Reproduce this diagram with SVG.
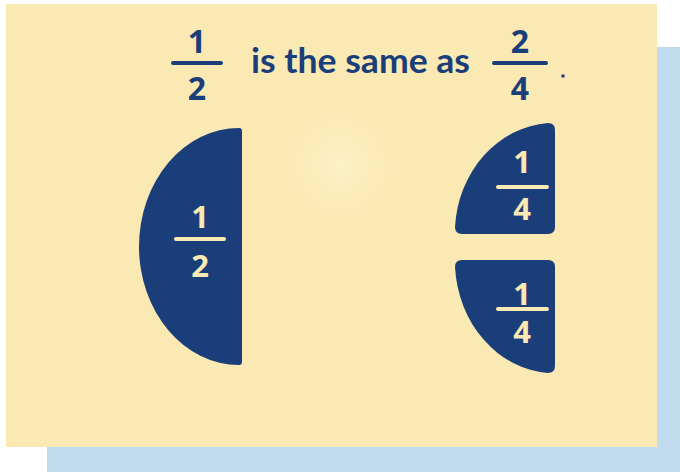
<svg xmlns="http://www.w3.org/2000/svg" width="680" height="472" viewBox="0 0 680 472">
<defs>
<radialGradient id="glow" cx="340" cy="165" r="80" gradientUnits="userSpaceOnUse">
<stop offset="0" stop-color="#fdf1c8"/>
<stop offset="1" stop-color="#fbe9b3" stop-opacity="0"/>
</radialGradient>
<style>
.navy{fill:#1a3e7a}
.num{font-family:"Open Sans","DejaVu Sans",sans-serif;font-weight:700;text-anchor:middle}
.dark{fill:#1a3e7a}
.light{fill:#fbe9b3}
.bar-d{stroke:#1a3e7a;stroke-width:4;stroke-linecap:round}
.bar-l{stroke:#fbe9b3;stroke-width:4;stroke-linecap:round}
.words{font-family:"Lato","Open Sans",sans-serif;font-weight:700;font-size:34px;fill:#1a3e7a}
</style>
</defs>
<rect x="47" y="47" width="633" height="425" fill="#c0daee"/>
<rect x="6" y="4" width="651" height="443" fill="#fbe9b3"/>
<circle cx="340" cy="165" r="80" fill="url(#glow)"/>
<g id="title">
<text class="num dark" x="197" y="53" font-size="32">1</text>
<line class="bar-d" x1="173" y1="63" x2="221" y2="63"/>
<text class="num dark" x="197" y="100" font-size="32">2</text>
<text class="words" x="251" y="73" textLength="219" lengthAdjust="spacingAndGlyphs">is the same as</text>
<text class="num dark" x="520" y="53" font-size="32">2</text>
<line class="bar-d" x1="494" y1="63" x2="546" y2="63"/>
<text class="num dark" x="520" y="100" font-size="32">4</text>
<circle cx="563" cy="76" r="1.8" fill="#1a3e7a"/>
</g>
<g id="half">
<path class="navy" d="M239,128 Q242,128 242,131 L242,362 Q242,365 239,365 A100,118.5 0 0 1 239,128 Z"/>
<text class="num light" x="200" y="228" font-size="31">1</text>
<line class="bar-l" x1="176" y1="239" x2="224" y2="239"/>
<text class="num light" x="200" y="277" font-size="31">2</text>
</g>
<g id="quarter-top">
<path class="navy" d="M548,123 Q555,123 555,130 L555,227 Q555,234 548,234 L462,234 Q455,234 455,227 A100,111 0 0 1 548,123 Z"/>
<text class="num light" x="522" y="173" font-size="31">1</text>
<line class="bar-l" x1="498" y1="187" x2="547" y2="187"/>
<text class="num light" x="522" y="220" font-size="31">4</text>
</g>
<g id="quarter-bottom">
<path class="navy" d="M462,260 L548,260 Q555,260 555,267 L555,366 Q555,373 548,373 A100,113 0 0 1 455,267 Q455,260 462,260 Z"/>
<text class="num light" x="522" y="305" font-size="31">1</text>
<line class="bar-l" x1="498" y1="309" x2="547" y2="309"/>
<text class="num light" x="522" y="343" font-size="31">4</text>
</g>
</svg>
